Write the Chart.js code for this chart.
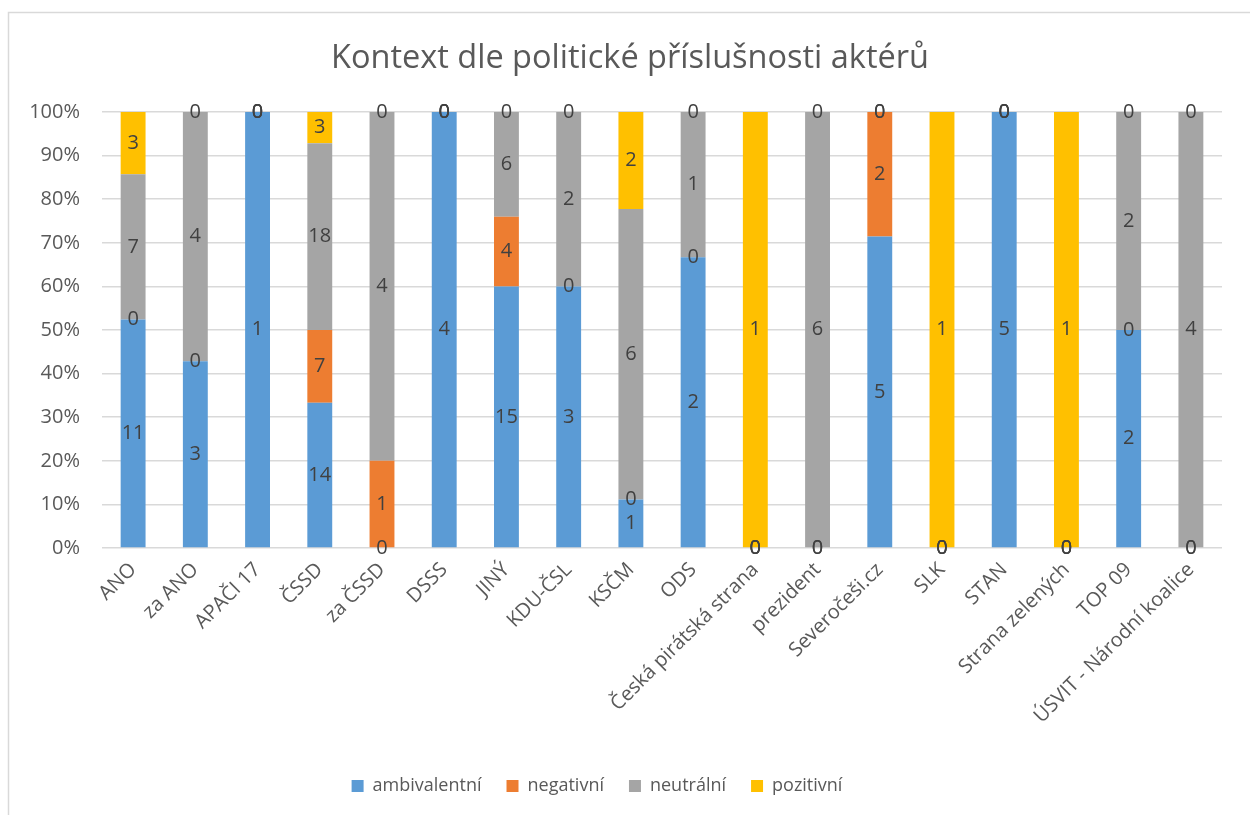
<!DOCTYPE html>
<html>
<head>
<meta charset="utf-8">
<script src="https://cdn.jsdelivr.net/npm/chart.js@4/dist/chart.umd.min.js"></script>
<style>
  html, body { margin: 0; padding: 0; background: #fff; }
  #wrap { width: 1250px; height: 815px; }
</style>
</head>
<body>
<div id="wrap"><canvas id="c" width="1250" height="815"></canvas></div>
<script>
const categories = ["ANO", "za ANO", "APAČI 17", "ČSSD", "za ČSSD", "DSSS", "JINÝ", "KDU-ČSL", "KSČM", "ODS",
  "Česká pirátská strana", "prezident", "Severočeši.cz", "SLK", "STAN", "Strana zelených", "TOP 09", "ÚSVIT - Národní koalice"];
const ambivalentni = [11, 3, 1, 14, 0, 4, 15, 3, 1, 2, 0, 0, 5, 0, 5, 0, 2, 0];
const negativni    = [0, 0, 0, 7, 1, 0, 4, 0, 0, 0, 0, 0, 2, 0, 0, 0, 0, 0];
const neutralni    = [7, 4, 0, 18, 4, 0, 6, 2, 6, 1, 0, 6, 0, 0, 0, 0, 2, 4];
const pozitivni    = [3, 0, 0, 3, 0, 0, 0, 0, 2, 0, 1, 0, 0, 1, 0, 1, 0, 0];
const seriesNames  = ["ambivalentní", "negativní", "neutrální", "pozitivní"];
const seriesColors = ["#5B9BD5", "#ED7D31", "#A5A5A5", "#FFC000"];
const yTicks = [0, 10, 20, 30, 40, 50, 60, 70, 80, 90, 100];
const titleText = "Kontext dle politické příslušnosti aktérů";

const allSeries = [ambivalentni, negativni, neutralni, pozitivni];
const totals = categories.map((_, i) => allSeries.reduce((s, arr) => s + arr[i], 0));
const toPct = arr => arr.map((v, i) => totals[i] ? v / totals[i] * 100 : 0);

const FONT = "'Open Sans', 'DejaVu Sans', sans-serif";

const frame = {
  id: 'frame',
  beforeDraw(chart) {
    const ctx = chart.ctx;
    ctx.save();
    ctx.fillStyle = '#fff';
    ctx.fillRect(0, 0, chart.width, chart.height);
    ctx.strokeStyle = '#d9d9d9';
    ctx.lineWidth = 1.5;
    ctx.beginPath();
    ctx.moveTo(8.5, 815);
    ctx.lineTo(8.5, 12.5);
    ctx.lineTo(1250, 12.5);
    ctx.stroke();
    ctx.restore();
  }
};

const blockShift = {
  id: 'blockShift',
  afterLayout(chart) {
    const lg = chart.legend;
    if (lg) { lg.left -= 14; lg.right -= 14; }
    const tt = chart.titleBlock;
    if (tt) { tt.left += 19; tt.right += 19; }
  }
};

const dataLabels = {
  id: 'dataLabels',
  afterDatasetsDraw(chart) {
    const ctx = chart.ctx;
    ctx.save();
    ctx.font = "20px " + FONT;
    ctx.fillStyle = '#404040';
    ctx.textAlign = 'center';
    ctx.textBaseline = 'middle';
    chart.data.datasets.forEach((ds, di) => {
      const meta = chart.getDatasetMeta(di);
      meta.data.forEach((el, i) => {
        const y = (el.y + el.base) / 2;
        ctx.fillText(String(ds.counts[i]), el.x, y);
      });
    });
    ctx.restore();
  }
};

new Chart(document.getElementById('c'), {
  type: 'bar',
  data: {
    labels: categories,
    datasets: allSeries.map((arr, k) => ({
      label: seriesNames[k],
      data: toPct(arr),
      counts: arr,
      backgroundColor: seriesColors[k],
      borderWidth: 0,
      categoryPercentage: 1,
      barPercentage: 0.40
    }))
  },
  options: {
    responsive: false,
    animation: false,
    devicePixelRatio: 1,
    layout: { padding: { left: 0, right: 28, top: 0, bottom: 10 } },
    plugins: {
      title: {
        display: true,
        text: titleText,
        color: '#595959',
        font: { family: FONT, size: 32.5, weight: 'normal' },
        padding: { top: 39, bottom: 34 }
      },
      legend: {
        position: 'bottom',
        labels: {
          color: '#595959',
          font: { family: FONT, size: 18 },
          boxWidth: 12,
          boxHeight: 12,
          padding: 25
        }
      },
      tooltip: { enabled: false }
    },
    scales: {
      x: {
        stacked: true,
        grid: { display: false },
        border: { display: false },
        ticks: {
          color: '#595959',
          font: { family: FONT, size: 20 },
          minRotation: 45,
          maxRotation: 45,
          autoSkip: false,
          padding: 2
        },
        afterFit(scale) { scale.height = 204; }
      },
      y: {
        stacked: true,
        min: 0,
        max: 100,
        grid: { color: '#d9d9d9', lineWidth: 1.5, drawTicks: false },
        border: { display: false },
        afterBuildTicks(scale) { scale.ticks = yTicks.map(v => ({ value: v })); },
        ticks: {
          color: '#595959',
          font: { family: FONT, size: 20 },
          padding: 22,
          callback: v => v + '%'
        },
        afterFit(scale) { scale.width = 102; }
      }
    }
  },
  plugins: [frame, blockShift, dataLabels]
});
</script>
</body>
</html>
